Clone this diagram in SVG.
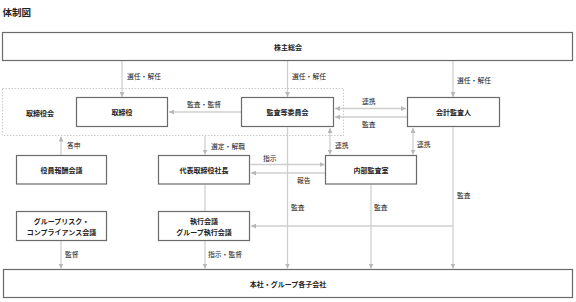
<svg xmlns="http://www.w3.org/2000/svg" width="576" height="302" viewBox="0 0 576 302">
<defs>
<marker id="ah" viewBox="0 0 6 6" refX="6" refY="3" markerWidth="5" markerHeight="5" markerUnits="userSpaceOnUse" orient="auto-start-reverse">
<path d="M0,0 L6,3 L0,6 z" fill="#b8b8b8"/>
</marker>
</defs>
<style>
text{font-family:"Noto Sans CJK JP","Noto Sans CJK SC",sans-serif;fill:#222}
.t{font-size:9.5px;font-weight:bold}
.n{font-size:7px;font-weight:bold;text-anchor:middle;dominant-baseline:central}
.l{font-size:6.8px;dominant-baseline:central}
.box{fill:#fff;stroke:#6a6a6a;stroke-width:1.2}
.grp{fill:none;stroke:#c4c4c4;stroke-width:0.9;stroke-dasharray:1.5 1.5}
.c{fill:none;stroke:#cfcfcf;stroke-width:1.3}
.a{marker-end:url(#ah)}
.b{marker-start:url(#ah);marker-end:url(#ah)}
</style>
<text class="t" x="2.5" y="15.5">体制図</text>

<g id="connectors">
<line class="c a" x1="122" y1="60.5" x2="122" y2="97"/>
<line class="c a" x1="287.5" y1="60.5" x2="287.5" y2="97"/>
<line class="c a" x1="453" y1="60.5" x2="453" y2="97"/>
<line class="c a" x1="241" y1="112" x2="169" y2="112"/>
<line class="c b" x1="335" y1="108.5" x2="406" y2="108.5"/>
<line class="c a" x1="407" y1="117" x2="335" y2="117"/>
<line class="c a" x1="61" y1="155" x2="61" y2="136.5"/>
<line class="c a" x1="205" y1="136" x2="205" y2="154.5"/>
<line class="c b" x1="330" y1="128" x2="330" y2="154.5"/>
<line class="c b" x1="413" y1="128" x2="413" y2="154.5"/>
<line class="c a" x1="250.5" y1="164.5" x2="324.5" y2="164.5"/>
<line class="c a" x1="325" y1="173" x2="251" y2="173"/>
<line class="c" x1="205" y1="184.5" x2="205" y2="211"/>
<line class="c a" x1="205" y1="241" x2="205" y2="268.5"/>
<line class="c a" x1="61" y1="241" x2="61" y2="268.5"/>
<line class="c a" x1="287.5" y1="127.5" x2="287.5" y2="268.5"/>
<line class="c a" x1="371" y1="184.5" x2="371" y2="268.5"/>
<line class="c a" x1="453" y1="127.5" x2="453" y2="268.5"/>
<line class="c a" x1="453" y1="226" x2="251" y2="226"/>
<text class="l" x="127" y="76">選任・解任</text>
<text class="l" x="292" y="76">選任・解任</text>
<text class="l" x="457" y="80">選任・解任</text>
<text class="l" x="187" y="104">監査・監督</text>
<text class="l" x="362" y="101">連携</text>
<text class="l" x="362" y="124">監査</text>
<text class="l" x="67" y="145">答申</text>
<text class="l" x="211" y="146">選定・解職</text>
<text class="l" x="335" y="145">連携</text>
<text class="l" x="417" y="144">連携</text>
<text class="l" x="263" y="158">指示</text>
<text class="l" x="297" y="180">報告</text>
<text class="l" x="291" y="207">監査</text>
<text class="l" x="374" y="207">監査</text>
<text class="l" x="457" y="195">監査</text>
<text class="l" x="65" y="254">監督</text>
<text class="l" x="208" y="254">指示・監督</text>
</g>

<g id="shareholders">
<rect class="box" x="2.5" y="32.5" width="570" height="28"/>
<text class="n" x="288" y="46.5">株主総会</text>
</g>
<g id="board-group">
<rect class="grp" x="2.5" y="88.5" width="341" height="47"/>
<text class="n" x="40" y="112.5">取締役会</text>
</g>
<g id="directors">
<rect class="box" x="76.5" y="97.5" width="91" height="29"/>
<text class="n" x="122" y="112">取締役</text>
</g>
<g id="audit-committee">
<rect class="box" x="241.5" y="97.5" width="92" height="29"/>
<text class="n" x="287.5" y="112">監査等委員会</text>
</g>
<g id="accounting-auditor">
<rect class="box" x="407.5" y="97.5" width="92" height="29"/>
<text class="n" x="453.5" y="112">会計監査人</text>
</g>
<g id="remuneration">
<rect class="box" x="16.5" y="155.5" width="90" height="28.5"/>
<text class="n" x="61.5" y="169.5">役員報酬会議</text>
</g>
<g id="president">
<rect class="box" x="158.5" y="155.5" width="91" height="28.5"/>
<text class="n" x="204" y="169.5">代表取締役社長</text>
</g>
<g id="internal-audit">
<rect class="box" x="325.5" y="155.5" width="91" height="28.5"/>
<text class="n" x="371" y="169.5">内部監査室</text>
</g>
<g id="risk-compliance">
<rect class="box" x="16.5" y="211.5" width="90" height="29"/>
<text class="n" x="61.5" y="220.5">グループリスク・</text>
<text class="n" x="61.5" y="231.5">コンプライアンス会議</text>
</g>
<g id="executive">
<rect class="box" x="158.5" y="211.5" width="91" height="29"/>
<text class="n" x="204" y="220.5">執行会議</text>
<text class="n" x="204" y="231.5">グループ執行会議</text>
</g>
<g id="group-companies">
<rect class="box" x="3.5" y="269.5" width="569" height="28"/>
<text class="n" x="288" y="283.5">本社・グループ各子会社</text>
</g>
</svg>
